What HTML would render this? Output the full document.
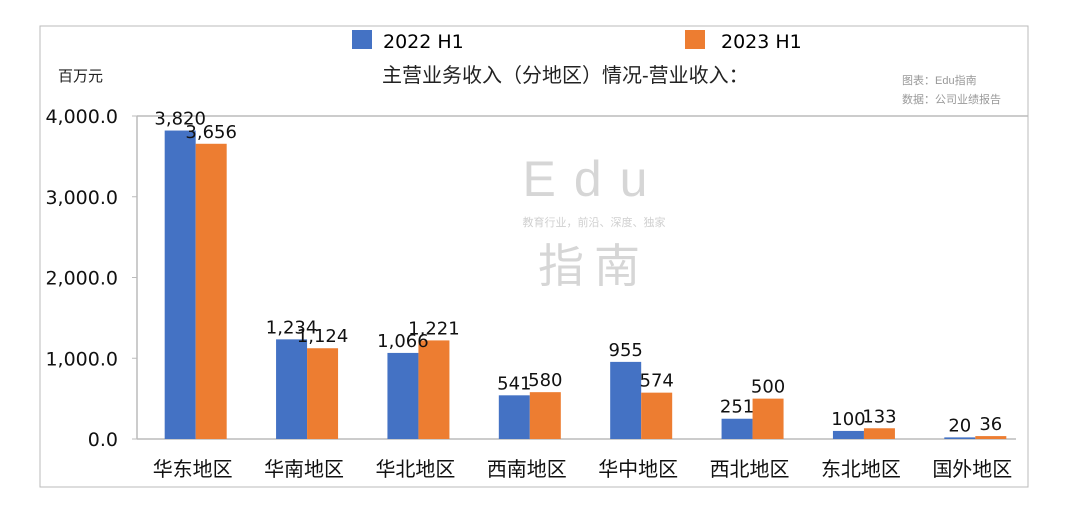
<!DOCTYPE html>
<html><head><meta charset="utf-8"><style>
body{margin:0;background:#fff;}
svg text{font-family:"Liberation Sans","Noto Sans CJK SC",sans-serif;}
svg text.num{font-family:"DejaVu Sans","Liberation Sans",sans-serif;}
</style></head><body>
<svg width="1080" height="509">
<rect x="40" y="26" width="988" height="461" fill="#fff" stroke="#bbb" stroke-width="1"/>
<g fill="#ddd" text-anchor="middle">
<text x="594" y="196" font-size="50" letter-spacing="18" fill="#d6d6d6">Edu</text>
<text x="594" y="226" font-size="11" fill="#d0d0d0">教育行业，前沿、深度、独家</text>
<text x="594" y="282" font-size="46" letter-spacing="10" fill="#d6d6d6">指南</text>
</g>
<g>
<rect x="352" y="30" width="20" height="19" fill="#4472c4"/>
<text class="num" x="383" y="48" font-size="19">2022 H1</text>
<rect x="685" y="30" width="20" height="19" fill="#ed7d31"/>
<text class="num" x="721" y="48" font-size="19">2023 H1</text>
</g>
<text x="382" y="82" font-size="20" fill="#222">主营业务收入（分地区）情况-营业收入：</text>
<text x="58" y="81" font-size="15" fill="#222">百万元</text>
<text x="902" y="84" font-size="11" fill="#999">图表：Edu指南</text>
<text x="902" y="103" font-size="11" fill="#999">数据：公司业绩报告</text>
<g id="plot"></g>
</svg>
<script>
const categories=["华东地区","华南地区","华北地区","西南地区","华中地区","西北地区","东北地区","国外地区"];
const series2022=[3820,1234,1066,541,955,251,100,20];
const series2023=[3656,1124,1221,580,574,500,133,36];
const labels2022=["3,820","1,234","1,066","541","955","251","100","20"];
const labels2023=["3,656","1,124","1,221","580","574","500","133","36"];
const yTicks=[0,1000,2000,3000,4000];
const yTickLabels=["0.0","1,000.0","2,000.0","3,000.0","4,000.0"];
const NS="http://www.w3.org/2000/svg";
const g=document.getElementById('plot');
const x0=137,x1=1028,yTop=116,yBot=439,yMax=4000;
const y=v=>yBot-(v/yMax)*(yBot-yTop);
const band=(x1-x0)/categories.length;
const cx=i=>x0+band*(i+0.5);
function mk(tag,attrs){const e=document.createElementNS(NS,tag);for(const k in attrs)e.setAttribute(k,attrs[k]);g.appendChild(e);return e;}
let e=mk('line',{x1:x0,y1:yTop,x2:x1,y2:yTop,stroke:'#bbb','stroke-width':1.5});


e=mk('line',{x1:x0,y1:yTop,x2:x0,y2:yBot,stroke:'#bbb','stroke-width':1.5});


e=mk('line',{x1:x0,y1:yBot,x2:x1-12,y2:yBot,stroke:'#bbb','stroke-width':1.5});


yTicks.forEach((t,i)=>{
 const tx=mk('text',{x:118,y:y(t)+7,'font-size':19,'text-anchor':'end',fill:'#111','class':'num'});
 tx.textContent=yTickLabels[i];
 
 
 const tk=mk('line',{x1:x0-5,y1:y(t),x2:x0,y2:y(t),stroke:'#bbb'});
 
 
});
const bw=31;
categories.forEach((c,i)=>{
 const c0=cx(i)+3;
 const b1=mk('rect',{x:c0-bw,y:y(series2022[i]),width:bw,height:yBot-y(series2022[i]),fill:'#4472c4'});
 
 
 const b2=mk('rect',{x:c0,y:y(series2023[i]),width:bw,height:yBot-y(series2023[i]),fill:'#ed7d31'});
 
 
 const l1=mk('text',{x:c0-bw/2,y:y(series2022[i])-6,'font-size':18,'text-anchor':'middle',fill:'#111','class':'num'});
 l1.textContent=labels2022[i];
 
 
 const l2=mk('text',{x:c0+bw/2,y:y(series2023[i])-6,'font-size':18,'text-anchor':'middle',fill:'#111','class':'num'});
 l2.textContent=labels2023[i];
 
 
 const xl=mk('text',{x:cx(i),y:476,'font-size':20,'text-anchor':'middle',fill:'#111'});
 xl.textContent=c;
 
 
});
</script>
</body></html>
